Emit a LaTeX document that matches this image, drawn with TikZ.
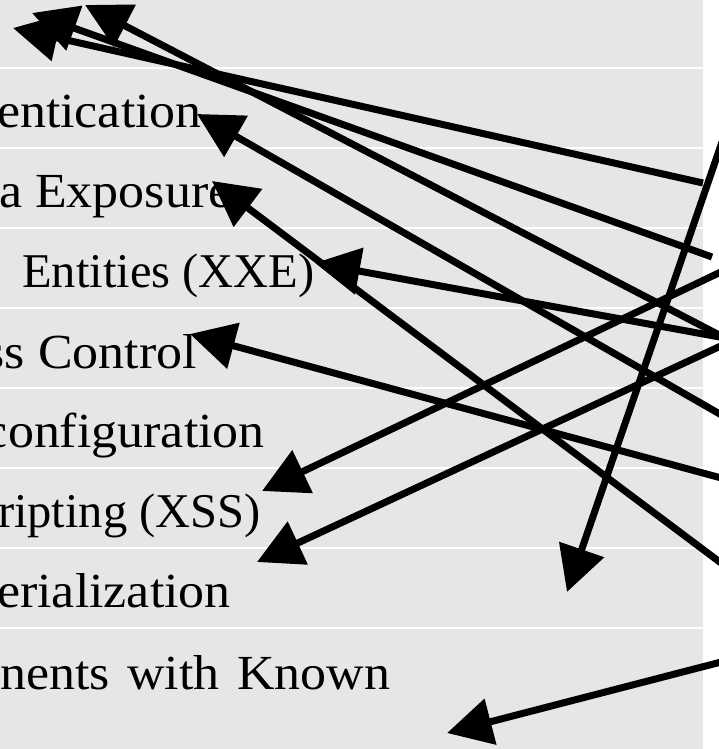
\documentclass[tikz,border=0pt]{standalone}
\usepackage{fontspec}
\setmainfont{Liberation Serif}
\usetikzlibrary{arrows.meta}
\definecolor{rowgray}{RGB}{230,230,230}
% labels are set a little wider than the font's natural width
\newcommand{\widetext}[1]{\scalebox{1.06}[1]{#1}}
\begin{document}
\begin{tikzpicture}[x=1pt,y=-1pt,
  rowsep/.style={draw=white,line width=1.6pt},
  label/.style={inner sep=0pt,font=\fontsize{49}{58}\selectfont},
  plainlabel/.style={label,font=\fontsize{48.5}{58}\selectfont},
  link/.style={line width=7pt,-{Triangle[length=45pt,width=46pt]}}]
\useasboundingbox (0,0) rectangle (719,749);
\begin{scope}
\clip (0,0) rectangle (719,749);
% row bands with thin white gaps
\fill[rowgray] (0,-5) rectangle (703,754);
\foreach \k in {0,...,7} \draw[rowsep] (0,68.2+80*\k) -- (703,68.2+80*\k);
% row labels
\node[label,anchor=base east] (t1) at (202,128) {\widetext{entication}};
\node[label,anchor=base west] (t2) at (-1,207) {\widetext{a Exposure}};
\node[plainlabel,anchor=base west] (t3) at (22,287) {Entities (XXE)};
\node[label,anchor=base east] (t4) at (197,368) {\widetext{ss Control}};
\node[label,anchor=base east] (t5) at (265,447) {\widetext{configuration}};
\node[plainlabel,anchor=base east] (t6) at (261,527) {ripting (XSS)};
\node[label,anchor=base east] (t7) at (231,607) {\widetext{erialization}};
\node[label,anchor=base west] (t8) at (0,689) {\widetext{\makebox[368pt][s]{nents with Known}}};
% connector ends
\coordinate (sa) at (703,183);  \coordinate (ea) at (13,28);
\coordinate (sb) at (712,257);  \coordinate (eb) at (32,13);
\coordinate (sc) at (725,338);  \coordinate (ec) at (85,5);
\coordinate (sx) at (725,338);  \coordinate (ex) at (315,263);
\coordinate (sv) at (722,142);  \coordinate (ev) at (567,592);
\coordinate (sm) at (725,270);  \coordinate (em) at (262,491);
\coordinate (ss) at (725,344);  \coordinate (es) at (257,562);
\coordinate (sn) at (725,417);  \coordinate (en) at (197,114);
\coordinate (sk) at (725,479);  \coordinate (ek) at (190,334);
\coordinate (se) at (725,566);  \coordinate (ee) at (212,181);
\coordinate (sw) at (725,661);  \coordinate (ew) at (447,733);
% connectors
\draw[link] (sa) -- (ea);
\draw[link] (sb) -- (eb);
\draw[link] (sc) -- (ec);
\draw[link] (sx) -- (ex);
\draw[link] (sv) -- (ev);
\draw[link] (sm) -- (em);
\draw[link] (ss) -- (es);
\draw[link] (sn) -- (en);
\draw[link] (sk) -- (ek);
\draw[link] (se) -- (ee);
\draw[link] (sw) -- (ew);
\end{scope}
\end{tikzpicture}
\end{document}
